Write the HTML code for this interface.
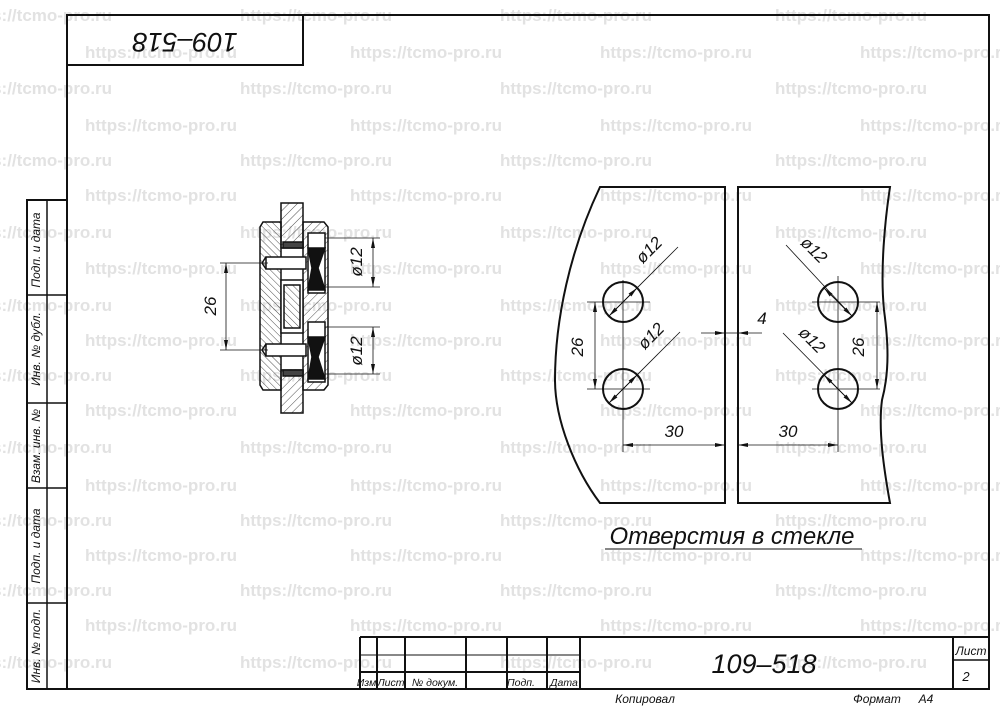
<!DOCTYPE html>
<html><head><meta charset="utf-8"><style>
html,body{margin:0;padding:0;background:#fff;}
svg{display:block;}
.wm{font-family:"Liberation Sans",sans-serif;font-weight:bold;font-size:17px;fill:#e2e2e2;}
.t{font-family:"Liberation Sans","DejaVu Sans",sans-serif;font-style:italic;fill:#111;}
</style></head><body>
<svg width="1000" height="707" viewBox="0 0 1000 707" xmlns="http://www.w3.org/2000/svg">
<defs>
<pattern id="h" width="6" height="6" patternUnits="userSpaceOnUse" patternTransform="rotate(45)"><line x1="0" y1="0" x2="0" y2="6" stroke="#222" stroke-width="0.8"/></pattern>
<pattern id="h2" width="5" height="5" patternUnits="userSpaceOnUse" patternTransform="rotate(-45)"><line x1="0" y1="0" x2="0" y2="5" stroke="#222" stroke-width="0.8"/></pattern>
<marker id="a" viewBox="0 0 10 4" refX="10" refY="2" markerWidth="10" markerHeight="4" orient="auto-start-reverse" markerUnits="userSpaceOnUse"><path d="M0,0 L10,2 L0,4z" fill="#111"/></marker>
</defs>
<rect width="1000" height="707" fill="#fff"/>
<!-- watermarks -->
<g class="wm">
<text x="-40" y="21">https://tcmo-pro.ru</text><text x="240" y="21">https://tcmo-pro.ru</text><text x="500" y="21">https://tcmo-pro.ru</text><text x="775" y="21">https://tcmo-pro.ru</text>
<text x="85" y="58">https://tcmo-pro.ru</text><text x="350" y="58">https://tcmo-pro.ru</text><text x="600" y="58">https://tcmo-pro.ru</text><text x="860" y="58">https://tcmo-pro.ru</text>
<text x="-40" y="94">https://tcmo-pro.ru</text><text x="240" y="94">https://tcmo-pro.ru</text><text x="500" y="94">https://tcmo-pro.ru</text><text x="775" y="94">https://tcmo-pro.ru</text>
<text x="85" y="131">https://tcmo-pro.ru</text><text x="350" y="131">https://tcmo-pro.ru</text><text x="600" y="131">https://tcmo-pro.ru</text><text x="860" y="131">https://tcmo-pro.ru</text>
<text x="-40" y="166">https://tcmo-pro.ru</text><text x="240" y="166">https://tcmo-pro.ru</text><text x="500" y="166">https://tcmo-pro.ru</text><text x="775" y="166">https://tcmo-pro.ru</text>
<text x="85" y="201">https://tcmo-pro.ru</text><text x="350" y="201">https://tcmo-pro.ru</text><text x="600" y="201">https://tcmo-pro.ru</text><text x="860" y="201">https://tcmo-pro.ru</text>
<text x="-40" y="238">https://tcmo-pro.ru</text><text x="240" y="238">https://tcmo-pro.ru</text><text x="500" y="238">https://tcmo-pro.ru</text><text x="775" y="238">https://tcmo-pro.ru</text>
<text x="85" y="274">https://tcmo-pro.ru</text><text x="350" y="274">https://tcmo-pro.ru</text><text x="600" y="274">https://tcmo-pro.ru</text><text x="860" y="274">https://tcmo-pro.ru</text>
<text x="-40" y="311">https://tcmo-pro.ru</text><text x="240" y="311">https://tcmo-pro.ru</text><text x="500" y="311">https://tcmo-pro.ru</text><text x="775" y="311">https://tcmo-pro.ru</text>
<text x="85" y="346">https://tcmo-pro.ru</text><text x="350" y="346">https://tcmo-pro.ru</text><text x="600" y="346">https://tcmo-pro.ru</text><text x="860" y="346">https://tcmo-pro.ru</text>
<text x="-40" y="381">https://tcmo-pro.ru</text><text x="240" y="381">https://tcmo-pro.ru</text><text x="500" y="381">https://tcmo-pro.ru</text><text x="775" y="381">https://tcmo-pro.ru</text>
<text x="85" y="416">https://tcmo-pro.ru</text><text x="350" y="416">https://tcmo-pro.ru</text><text x="600" y="416">https://tcmo-pro.ru</text><text x="860" y="416">https://tcmo-pro.ru</text>
<text x="-40" y="453">https://tcmo-pro.ru</text><text x="240" y="453">https://tcmo-pro.ru</text><text x="500" y="453">https://tcmo-pro.ru</text><text x="775" y="453">https://tcmo-pro.ru</text>
<text x="85" y="491">https://tcmo-pro.ru</text><text x="350" y="491">https://tcmo-pro.ru</text><text x="600" y="491">https://tcmo-pro.ru</text><text x="860" y="491">https://tcmo-pro.ru</text>
<text x="-40" y="526">https://tcmo-pro.ru</text><text x="240" y="526">https://tcmo-pro.ru</text><text x="500" y="526">https://tcmo-pro.ru</text><text x="775" y="526">https://tcmo-pro.ru</text>
<text x="85" y="561">https://tcmo-pro.ru</text><text x="350" y="561">https://tcmo-pro.ru</text><text x="600" y="561">https://tcmo-pro.ru</text><text x="860" y="561">https://tcmo-pro.ru</text>
<text x="-40" y="596">https://tcmo-pro.ru</text><text x="240" y="596">https://tcmo-pro.ru</text><text x="500" y="596">https://tcmo-pro.ru</text><text x="775" y="596">https://tcmo-pro.ru</text>
<text x="85" y="631">https://tcmo-pro.ru</text><text x="350" y="631">https://tcmo-pro.ru</text><text x="600" y="631">https://tcmo-pro.ru</text><text x="860" y="631">https://tcmo-pro.ru</text>
<text x="-40" y="668">https://tcmo-pro.ru</text><text x="240" y="668">https://tcmo-pro.ru</text><text x="500" y="668">https://tcmo-pro.ru</text><text x="775" y="668">https://tcmo-pro.ru</text>
</g>
<!-- frame -->
<g fill="none" stroke="#111">
<rect x="67" y="15" width="922" height="674" stroke-width="2"/>
<rect x="67" y="15" width="236" height="50" stroke-width="2"/>
<rect x="27" y="200" width="40" height="489" stroke-width="2"/>
<line x1="47" y1="200" x2="47" y2="689" stroke-width="1.5"/>
<line x1="27" y1="295" x2="67" y2="295" stroke-width="1.5"/>
<line x1="27" y1="403" x2="67" y2="403" stroke-width="1.5"/>
<line x1="27" y1="488" x2="67" y2="488" stroke-width="1.5"/>
<line x1="27" y1="603" x2="67" y2="603" stroke-width="1.5"/>
<!-- title block -->
<line x1="360" y1="637" x2="989" y2="637" stroke-width="2"/>
<line x1="360" y1="637" x2="360" y2="689" stroke-width="2"/>
<line x1="360" y1="655" x2="580" y2="655" stroke-width="1"/>
<line x1="360" y1="672" x2="580" y2="672" stroke-width="2"/>
<line x1="377" y1="637" x2="377" y2="689" stroke-width="2"/>
<line x1="405" y1="637" x2="405" y2="689" stroke-width="2"/>
<line x1="466" y1="637" x2="466" y2="689" stroke-width="2"/>
<line x1="507" y1="637" x2="507" y2="689" stroke-width="2"/>
<line x1="547" y1="637" x2="547" y2="689" stroke-width="2"/>
<line x1="580" y1="637" x2="580" y2="689" stroke-width="2"/>
<line x1="953" y1="637" x2="953" y2="689" stroke-width="2"/>
<line x1="953" y1="660" x2="989" y2="660" stroke-width="1.5"/>
</g>
<g class="t">
<text transform="translate(40,250) rotate(-90)" text-anchor="middle" font-size="12">Подп. и дата</text>
<text transform="translate(40,349) rotate(-90)" text-anchor="middle" font-size="12">Инв. № дубл.</text>
<text transform="translate(40,446) rotate(-90)" text-anchor="middle" font-size="12">Взам. инв. №</text>
<text transform="translate(40,546) rotate(-90)" text-anchor="middle" font-size="12">Подп. и дата</text>
<text transform="translate(40,646) rotate(-90)" text-anchor="middle" font-size="12">Инв. № подп.</text>
<text transform="translate(185,40) rotate(180)" text-anchor="middle" dominant-baseline="middle" font-size="27">109–518</text>
<text x="368" y="686" text-anchor="middle" font-size="10.5">Изм.</text>
<text x="391" y="686" text-anchor="middle" font-size="10.5">Лист</text>
<text x="435" y="686" text-anchor="middle" font-size="10.5">№ докум.</text>
<text x="521" y="686" text-anchor="middle" font-size="10.5">Подп.</text>
<text x="564" y="686" text-anchor="middle" font-size="10.5">Дата</text>
<text x="764" y="673" text-anchor="middle" font-size="27">109–518</text>
<text x="971" y="655" text-anchor="middle" font-size="12">Лист</text>
<text x="966" y="681" text-anchor="middle" font-size="13">2</text>
<text x="645" y="703" text-anchor="middle" font-size="12">Копировал</text>
<text x="877" y="703" text-anchor="middle" font-size="12">Формат</text>
<text x="926" y="703" text-anchor="middle" font-size="12">А4</text>
</g>

<!-- right drawing: glass holes -->
<g fill="none" stroke="#111">
<path d="M600,187 L725,187 L725,503 L600,503 C575,470 555,420 555,380 C555,320 570,250 600,187Z" stroke-width="2"/>
<path d="M738,187 L890,187 C885,220 880,270 884,310 C888,340 890,370 882,400 C878,430 884,470 890,503 L738,503Z" stroke-width="2"/>
<circle cx="623" cy="302" r="20" stroke-width="2"/>
<circle cx="623" cy="389" r="20" stroke-width="2"/>
<circle cx="838" cy="302" r="20" stroke-width="2"/>
<circle cx="838" cy="389" r="20" stroke-width="2"/>
<g stroke-width="0.8">
<line x1="587" y1="302" x2="650" y2="302"/><line x1="623" y1="280" x2="623" y2="452"/>
<line x1="587" y1="389" x2="650" y2="389"/>
<line x1="812" y1="302" x2="880" y2="302"/><line x1="838" y1="276" x2="838" y2="452"/>
<line x1="812" y1="389" x2="880" y2="389"/>
<line x1="725" y1="445" x2="725" y2="452"/>
<line x1="595" y1="302" x2="595" y2="389" marker-start="url(#a)" marker-end="url(#a)"/>
<line x1="877" y1="302" x2="877" y2="389" marker-start="url(#a)" marker-end="url(#a)"/>
<line x1="623" y1="445" x2="725" y2="445" marker-start="url(#a)" marker-end="url(#a)"/>
<line x1="738" y1="445" x2="838" y2="445" marker-start="url(#a)" marker-end="url(#a)"/>
<line x1="701" y1="333" x2="725" y2="333" marker-end="url(#a)"/>
<line x1="762" y1="333" x2="738" y2="333" marker-end="url(#a)"/>
<line x1="725" y1="333" x2="738" y2="333"/>
<line x1="609" y1="316" x2="678" y2="247"/><line x1="637" y1="288" x2="609" y2="316" marker-end="url(#a)"/><line x1="609" y1="316" x2="637" y2="288" marker-end="url(#a)"/>
<line x1="609" y1="403" x2="680" y2="332"/><line x1="609" y1="403" x2="637" y2="375" marker-end="url(#a)"/><line x1="637" y1="375" x2="609" y2="403" marker-end="url(#a)"/>
<line x1="852" y1="316" x2="786" y2="245"/><line x1="824" y1="288" x2="852" y2="316" marker-end="url(#a)"/><line x1="852" y1="316" x2="824" y2="288" marker-end="url(#a)"/>
<line x1="852" y1="403" x2="783" y2="333"/><line x1="824" y1="375" x2="852" y2="403" marker-end="url(#a)"/><line x1="852" y1="403" x2="824" y2="375" marker-end="url(#a)"/>
</g>
<line x1="605" y1="549" x2="862" y2="549" stroke-width="1"/>
</g>
<g class="t" font-size="17">
<text transform="translate(583,347) rotate(-90)" text-anchor="middle">26</text>
<text transform="translate(864,347) rotate(-90)" text-anchor="middle">26</text>
<text x="674" y="437" text-anchor="middle">30</text>
<text x="788" y="437" text-anchor="middle">30</text>
<text x="762" y="324" text-anchor="middle">4</text>
<text transform="translate(653,254) rotate(-45)" text-anchor="middle">ø12</text>
<text transform="translate(655,340) rotate(-45)" text-anchor="middle">ø12</text>
<text transform="translate(810,254) rotate(45)" text-anchor="middle">ø12</text>
<text transform="translate(808,344) rotate(45)" text-anchor="middle">ø12</text>
<text x="732" y="544" text-anchor="middle" font-size="24">Отверстия в стекле</text>
</g>

<!-- left assembly -->
<g stroke="#111" stroke-width="1.5">
<rect x="281" y="203" width="22" height="45" fill="url(#h)"/>
<rect x="281" y="370" width="22" height="43" fill="url(#h)"/>
<path d="M263,222 L281,222 L281,390 L263,390 L260,385 L260,227Z" fill="url(#h2)"/>
<path d="M303,222 L324,222 L328,227 L328,385 L324,390 L303,390Z" fill="url(#h)"/>
<rect x="308" y="233" width="17" height="60" fill="#fff"/>
<rect x="308" y="322" width="17" height="60" fill="#fff"/>
<rect x="281" y="280" width="22" height="53" fill="#fff"/>
<rect x="284" y="285" width="16" height="43" fill="url(#h2)"/>
<path d="M308,248 L325,248 L318,268 L325,290 L308,290 L312,268Z" fill="#111"/>
<path d="M308,337 L325,337 L318,357 L325,379 L308,379 L312,357Z" fill="#111"/>
<rect x="266" y="257" width="40" height="12" fill="#fff"/>
<rect x="266" y="344" width="40" height="12" fill="#fff"/>
<path d="M266,257 L262,263 L266,269" fill="none"/>
<path d="M266,344 L262,350 L266,356" fill="none"/>
<rect x="283" y="242" width="20" height="6" fill="#444"/>
<rect x="283" y="370" width="20" height="6" fill="#444"/>
</g>
<g fill="none" stroke="#111" stroke-width="0.8">
<line x1="220" y1="263" x2="268" y2="263"/><line x1="220" y1="350" x2="268" y2="350"/>
<line x1="226" y1="263" x2="226" y2="350" marker-start="url(#a)" marker-end="url(#a)"/>
<line x1="325" y1="238" x2="380" y2="238"/><line x1="325" y1="287" x2="380" y2="287"/>
<line x1="325" y1="327" x2="380" y2="327"/><line x1="325" y1="374" x2="380" y2="374"/>
<line x1="373" y1="238" x2="373" y2="287" marker-start="url(#a)" marker-end="url(#a)"/>
<line x1="373" y1="327" x2="373" y2="374" marker-start="url(#a)" marker-end="url(#a)"/>
</g>
<g class="t" font-size="17">
<text transform="translate(216,306) rotate(-90)" text-anchor="middle">26</text>
<text transform="translate(362,262) rotate(-90)" text-anchor="middle">ø12</text>
<text transform="translate(362,351) rotate(-90)" text-anchor="middle">ø12</text>
</g>
</svg>
</body></html>
